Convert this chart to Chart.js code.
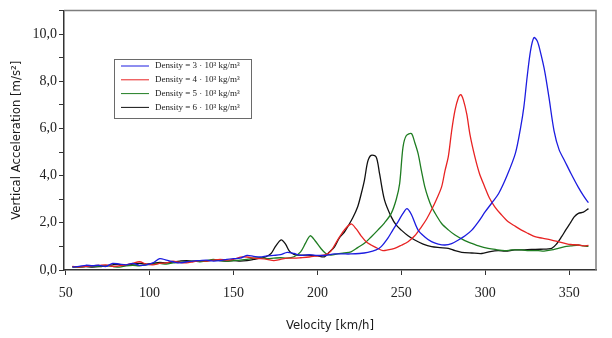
<!DOCTYPE html>
<html lang="en">
<head>
  <meta charset="UTF-8" />
  <title>Vertical acceleration vs velocity</title>
  <script src="https://cdn.jsdelivr.net/npm/chart.js"></script>
  <style>
    body {
      margin: 0;
      background: #ffffff;
    }
    #wrap {
      width: 612px;
      height: 338px;
    }
  </style>
</head>
<body>
  <div id="wrap"><canvas id="accelChart" width="612" height="338"></canvas></div>

  <script>
    // [velocity km/h, vertical acceleration m/s²]
    const density3 = [[54,0.12],[58,0.15],[62,0.2],[66,0.18],[70,0.2],[74,0.15],[78,0.28],[82,0.25],[86,0.22],[90,0.28],[94,0.2],[98,0.22],[102,0.3],[106,0.48],[110,0.42],[114,0.35],[118,0.3],[122,0.35],[126,0.38],[130,0.4],[134,0.42],[138,0.38],[142,0.4],[146,0.45],[150,0.48],[154,0.5],[158,0.62],[162,0.58],[166,0.55],[170,0.6],[174,0.62],[178,0.65],[182,0.75],[186,0.7],[190,0.62],[195,0.65],[200,0.62],[205,0.62],[210,0.68],[215,0.68],[220,0.68],[225,0.7],[230,0.75],[235,0.85],[238,0.99],[242,1.35],[245,1.7],[248,2.04],[251,2.4],[253.4,2.6],[256,2.35],[260,1.69],[264,1.4],[268,1.2],[272,1.1],[276,1.06],[280,1.12],[284,1.27],[288,1.45],[292,1.69],[296,2.05],[300,2.47],[304,2.85],[308,3.24],[313,4.0],[318,4.95],[321,6.0],[323,6.9],[325,8.2],[327,9.3],[329,9.85],[331,9.7],[333,9.2],[335.5,8.4],[338,7.3],[341,5.9],[344,5.1],[347.5,4.6],[351,4.1],[355.5,3.5],[358.5,3.15],[361.5,2.85]];
    const density4 = [[54,0.15],[58,0.12],[62,0.15],[66,0.18],[70,0.2],[74,0.22],[78,0.15],[82,0.18],[86,0.22],[90,0.28],[94,0.35],[98,0.25],[102,0.22],[106,0.28],[110,0.3],[114,0.38],[118,0.32],[122,0.3],[126,0.35],[130,0.4],[134,0.38],[138,0.42],[142,0.45],[146,0.42],[150,0.45],[154,0.55],[158,0.55],[162,0.5],[166,0.48],[170,0.45],[174,0.4],[178,0.45],[182,0.5],[186,0.5],[190,0.52],[195,0.55],[200,0.6],[205,0.65],[208,0.8],[212,1.27],[216,1.69],[220,1.95],[223,1.75],[226,1.45],[229,1.2],[232,1.06],[235,0.95],[239,0.82],[242,0.85],[246,0.92],[250,1.05],[254,1.2],[258,1.45],[262,1.83],[265,2.15],[268,2.55],[271,3.0],[274,3.52],[276,4.2],[278,4.8],[280,5.9],[282,6.77],[284,7.3],[285.4,7.43],[287,7.2],[289,6.6],[291,5.7],[293.8,4.8],[296.5,4.1],[299.7,3.52],[302.5,3.05],[305.7,2.68],[309.5,2.35],[313.7,2.04],[318,1.85],[321.6,1.69],[325.5,1.55],[329.6,1.41],[334,1.35],[339.6,1.27],[343.5,1.2],[347.5,1.13],[351,1.08],[355.5,1.06],[358.5,1.02],[361.5,1.04]];
    const density5 = [[54,0.12],[58,0.12],[62,0.15],[66,0.14],[70,0.16],[74,0.18],[78,0.15],[82,0.12],[86,0.18],[90,0.2],[94,0.18],[98,0.22],[102,0.25],[106,0.28],[110,0.25],[114,0.3],[118,0.32],[122,0.35],[126,0.38],[130,0.35],[134,0.4],[138,0.45],[142,0.4],[146,0.38],[150,0.4],[154,0.42],[158,0.45],[162,0.5],[166,0.52],[170,0.48],[174,0.5],[178,0.52],[182,0.5],[186,0.56],[190,0.77],[193,1.15],[195.7,1.45],[198.5,1.25],[202,0.92],[205,0.7],[208,0.63],[212,0.68],[216,0.72],[220,0.77],[224,0.95],[228,1.13],[232,1.4],[236,1.69],[240,2.0],[244,2.4],[247,3.0],[249,3.66],[251,5.21],[253,5.7],[256,5.78],[258,5.4],[260,4.93],[262,4.2],[264,3.52],[266,3.05],[268,2.68],[271,2.3],[274,1.97],[278,1.7],[282,1.48],[287,1.28],[292,1.13],[297,1.0],[301.7,0.92],[306,0.87],[311.7,0.82],[316,0.85],[321.6,0.85],[326,0.82],[331.6,0.82],[335,0.8],[339.6,0.85],[343.5,0.92],[347.5,0.99],[351,1.02],[355.5,1.06],[358.5,1.02],[361.5,1.0]];
    const density6 = [[54,0.14],[58,0.13],[62,0.14],[66,0.12],[70,0.14],[74,0.18],[78,0.22],[82,0.24],[86,0.2],[90,0.25],[94,0.28],[98,0.25],[102,0.28],[106,0.32],[110,0.3],[114,0.35],[118,0.38],[122,0.4],[126,0.38],[130,0.4],[134,0.38],[138,0.42],[142,0.4],[146,0.38],[150,0.4],[154,0.38],[158,0.4],[162,0.45],[166,0.5],[169,0.55],[172.4,0.7],[175,1.0],[178.4,1.28],[181,1.1],[183.3,0.8],[186,0.66],[188.3,0.63],[194.3,0.63],[200,0.6],[204.2,0.56],[207,0.75],[210.2,0.98],[213,1.35],[216,1.6],[218,1.83],[221,2.2],[224,2.68],[226,3.2],[228,3.8],[230,4.6],[232,4.86],[235,4.79],[237,4.09],[240,2.96],[244,2.25],[247,1.9],[250,1.69],[254,1.45],[258,1.27],[263,1.1],[268,0.99],[273,0.95],[278,0.92],[282,0.82],[286,0.75],[292,0.72],[298,0.7],[303,0.78],[307.7,0.82],[312,0.8],[317.6,0.85],[322,0.85],[327.6,0.87],[333,0.88],[339.6,0.92],[342.5,1.1],[345.5,1.41],[348,1.7],[350.5,1.97],[353,2.25],[355.5,2.4],[358.5,2.45],[361.5,2.6]];

    const seriesNames = ['Density = 3 · 10³ kg/m³', 'Density = 4 · 10³ kg/m³', 'Density = 5 · 10³ kg/m³', 'Density = 6 · 10³ kg/m³'];
    const velocityTicks = [50, 100, 150, 200, 250, 300, 350];
    const accelTicks = [0, 1, 2, 3, 4, 5, 6, 7, 8, 9, 10, 11];

    const colors = ['#1c1ce0', '#e82323', '#1f7d22', '#111111'];
    const serif = "'Liberation Serif', 'Times New Roman', serif";
    const narrow = "'Liberation Sans Narrow', 'Arial Narrow', 'DejaVu Sans Condensed', sans-serif";

    const toPoints = arr => arr.map(p => ({ x: p[0], y: p[1] }));

    // legend box drawn inside the plot, like the original
    const boxLegend = {
      id: 'boxLegend',
      afterDatasetsDraw(chart) {
        const ctx = chart.ctx;
        const bx = 114, by = 59, bw = 137, bh = 59;
        ctx.save();
        ctx.fillStyle = '#ffffff';
        ctx.fillRect(bx, by, bw, bh);
        ctx.strokeStyle = '#6a6a6a';
        ctx.lineWidth = 1;
        ctx.strokeRect(bx + 0.5, by + 0.5, bw, bh);
        ctx.font = '9px ' + serif;
        ctx.textBaseline = 'middle';
        chart.data.datasets.forEach((ds, i) => {
          const y = 66 + i * 13.8;
          ctx.strokeStyle = ds.borderColor;
          ctx.lineWidth = 1;
          ctx.beginPath();
          ctx.moveTo(121, y);
          ctx.lineTo(149, y);
          ctx.stroke();
          ctx.fillStyle = '#222';
          ctx.fillText(ds.label, 155, y);
        });
        // gray frame on top and right
        const a = chart.chartArea;
        ctx.strokeStyle = '#7d7d7d';
        ctx.lineWidth = 1.5;
        ctx.beginPath();
        ctx.moveTo(a.left, a.top);
        ctx.lineTo(a.right, a.top);
        ctx.lineTo(a.right, a.bottom);
        ctx.stroke();
        ctx.restore();
      }
    };

    new Chart(document.getElementById('accelChart'), {
      type: 'line',
      data: {
        datasets: [density3, density4, density5, density6].map((d, i) => ({
          label: seriesNames[i],
          data: toPoints(d),
          borderColor: colors[i],
          borderWidth: 1.3,
          pointRadius: 0,
          tension: 0.3,
          fill: false
        }))
      },
      options: {
        responsive: false,
        animation: false,
        layout: { padding: { top: 10, right: 16, left: 0, bottom: 0 } },
        plugins: {
          legend: { display: false },
          tooltip: { enabled: false }
        },
        scales: {
          x: {
            type: 'linear',
            min: 49,
            max: 366,
            afterFit: s => { s.height = 68; },
            afterBuildTicks: s => { s.ticks = velocityTicks.map(v => ({ value: v })); },
            border: { display: true, color: '#333', width: 1.5 },
            grid: { drawOnChartArea: false, tickLength: 5, color: '#333' },
            ticks: {
              color: '#222',
              font: { family: serif, size: 14 },
              padding: 10,
              maxRotation: 0
            },
            title: {
              display: true,
              text: 'Velocity [km/h]',
              color: '#1a1a1a',
              font: { family: narrow, size: 13 },
              padding: { bottom: 5 }
            }
          },
          y: {
            min: 0,
            max: 11,
            afterFit: s => { s.width = 64; },
            afterBuildTicks: s => { s.ticks = accelTicks.map(v => ({ value: v })); },
            border: { display: true, color: '#333', width: 1.5 },
            grid: { drawOnChartArea: false, tickLength: 5, color: '#333' },
            ticks: {
              color: '#222',
              font: { family: serif, size: 14 },
              padding: 2,
              callback: v => (v % 2 === 0 && v <= 10) ? v.toFixed(1).replace('.', ',') : ''
            },
            title: {
              display: true,
              text: 'Vertical Acceleration [m/s²]',
              color: '#1a1a1a',
              font: { family: narrow, size: 13 },
              padding: { top: 9 }
            }
          }
        }
      },
      plugins: [boxLegend]
    });
  </script>
</body>
</html>
